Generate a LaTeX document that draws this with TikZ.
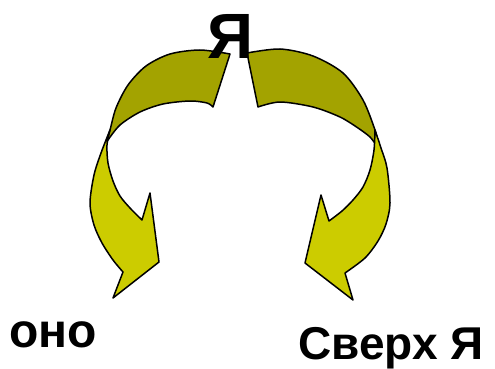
\documentclass[tikz,border=0pt]{standalone}
\usepackage{fontspec}
\setmainfont{Liberation Sans}
\begin{document}
\begin{tikzpicture}[x=1pt,y=-1pt,
  band/.style={draw=black,line width=1.5pt,line join=round,fill=dark},
  body/.style={draw=black,line width=1.5pt,line join=round,fill=light},
  lbl/.style={anchor=base west,inner sep=0pt,font=\bfseries}]
\definecolor{dark}{RGB}{163,163,0}
\definecolor{light}{RGB}{204,204,0}
\useasboundingbox (0,0) rectangle (495,369);
% left arrow: back band
\draw[band] (213,107) -- plot[smooth] coordinates {(230,54) (200,50) (170,54) (146,66) (128,85) (116,108) (110,130) (106,143)}
  -- plot[smooth] coordinates {(108,140) (120,125) (140,112) (163,104) (190,101) (207,103) (213,107)} -- cycle;
% right arrow: back band
\draw[band] (258,107) -- plot[smooth] coordinates {(247,53) (280,49) (313,56) (343,73) (363,100) (375,130) (378,143)}
  -- plot[smooth] coordinates {(376,145) (370,137) (358,128) (340,117) (313,107) (280,102) (258,107)} -- cycle;
% left arrow: front body with head
\draw[body] plot[smooth] coordinates {(110,130) (101,153) (94,175) (90,203) (94,225) (102,243) (113,260) (123,272)}
  -- (113,298) -- (159,262) -- (150,193) -- (142,220)
  -- plot[smooth] coordinates {(142,220) (130,208) (120,196) (113,181) (108,163) (107,145) (110,130)} -- cycle;
% right arrow: front body with head
\draw[body] plot[smooth] coordinates {(375,130) (381,148) (387,168) (390,203) (386,224) (378,241) (365,258) (345,273)}
  -- (353,300) -- (305,263) -- (321,195) -- (329,221)
  -- plot[smooth] coordinates {(329,221) (342,211) (353,200) (363,187) (370,170) (374,150) (375,130)} -- cycle;
% labels
\node[lbl,font=\bfseries\fontsize{64}{64}\selectfont] (ego) at (207,59) {Я};
\node[lbl,font=\bfseries\fontsize{48}{48}\selectfont] (id) at (9,347) {оно};
\node[lbl,font=\bfseries\fontsize{46}{46}\selectfont] (superego) at (298,359) {Сверх Я};
\end{tikzpicture}
\end{document}
